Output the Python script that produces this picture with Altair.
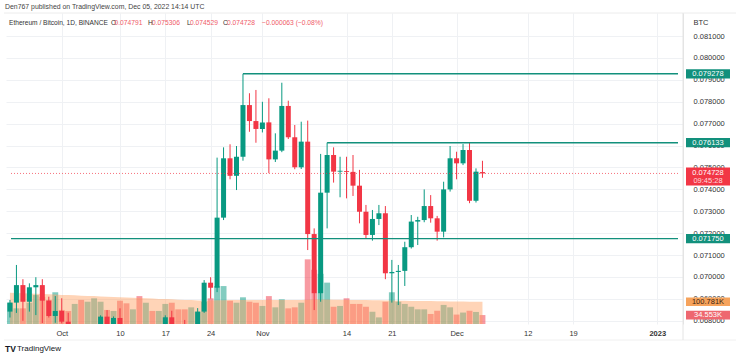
import altair as alt
import pandas as pd

# ---------------- data ----------------
# day index: 0 = Oct 1 2022 ; -8 = Sep 23 ... 65 = Dec 5
days = list(range(-8, 66))

opens = [0.06842, 0.06883, 0.06963, 0.06887, 0.06953, 0.06963, 0.06892, 0.06822, 0.06845, 0.06796,
         0.06740, 0.06760, 0.06730, 0.06752, 0.06770, 0.06819, 0.06770, 0.06813, 0.06765, 0.06730,
         0.06755, 0.06740, 0.06760, 0.06750, 0.06765, 0.06816, 0.06760, 0.06730, 0.06710, 0.06775,
         0.06842, 0.06974, 0.06951, 0.07271, 0.07542, 0.07462, 0.07549, 0.07785, 0.07712, 0.07676,
         0.07706, 0.07537, 0.07577, 0.07781, 0.07638, 0.07501, 0.07618, 0.07196, 0.06926, 0.07385,
         0.07557, 0.07481, 0.07484, 0.07480, 0.07417, 0.07298, 0.07192, 0.07265, 0.07291, 0.07017,
         0.07023, 0.07028, 0.07136, 0.07253, 0.07260, 0.07324, 0.07268, 0.07207, 0.07400, 0.07542,
         0.07519, 0.07580, 0.07348, 0.074791]

highs = [0.06895, 0.07055, 0.06990, 0.06971, 0.06999, 0.06990, 0.06910, 0.06913, 0.06903, 0.06837,
         0.06775, 0.06778, 0.06770, 0.06780, 0.06825, 0.06849, 0.06820, 0.06857, 0.06780, 0.06770,
         0.06775, 0.06780, 0.06782, 0.06778, 0.06825, 0.06846, 0.06778, 0.06804, 0.06780, 0.06858,
         0.06986, 0.06999, 0.07545, 0.07592, 0.07606, 0.07598, 0.079278, 0.07839, 0.07854, 0.07800,
         0.07816, 0.07656, 0.07887, 0.07805, 0.07694, 0.07709, 0.07714, 0.07222, 0.07562, 0.076133,
         0.07592, 0.07549, 0.07549, 0.07557, 0.07489, 0.07329, 0.07306, 0.07329, 0.07324, 0.07078,
         0.07055, 0.07161, 0.07283, 0.07275, 0.07400, 0.07374, 0.07279, 0.07435, 0.07598, 0.07572,
         0.07607, 0.07613, 0.07496, 0.075306]

lows = [0.06815, 0.06836, 0.06800, 0.06842, 0.06826, 0.06790, 0.06815, 0.06791, 0.06788, 0.06720,
        0.06710, 0.06715, 0.06705, 0.06725, 0.06750, 0.06750, 0.06755, 0.06740, 0.06710, 0.06700,
        0.06720, 0.06690, 0.06735, 0.06730, 0.06740, 0.06730, 0.06710, 0.06680, 0.06680, 0.06750,
        0.06836, 0.06901, 0.06931, 0.07260, 0.07446, 0.07397, 0.07531, 0.07663, 0.07613, 0.07660,
        0.07474, 0.07525, 0.07570, 0.07630, 0.07492, 0.07493, 0.07123, 0.06849, 0.06887, 0.07222,
        0.07431, 0.07364, 0.07359, 0.07370, 0.07245, 0.07177, 0.07166, 0.07237, 0.06990, 0.06883,
        0.06872, 0.06959, 0.07130, 0.07146, 0.07250, 0.07248, 0.07166, 0.07181, 0.07390, 0.07446,
        0.07511, 0.07337, 0.07340, 0.074529]

closes = [0.06883, 0.06963, 0.06887, 0.06953, 0.06963, 0.06892, 0.06822, 0.06845, 0.06796, 0.06740,
          0.06760, 0.06730, 0.06752, 0.06770, 0.06819, 0.06770, 0.06813, 0.06765, 0.06730, 0.06755,
          0.06740, 0.06760, 0.06750, 0.06765, 0.06816, 0.06760, 0.06730, 0.06710, 0.06775, 0.06842,
          0.06974, 0.06951, 0.07271, 0.07542, 0.07462, 0.07549, 0.07785, 0.07712, 0.07676, 0.07706,
          0.07537, 0.07577, 0.07781, 0.07638, 0.07501, 0.07618, 0.07196, 0.06926, 0.07385, 0.07557,
          0.07481, 0.07484, 0.07480, 0.07417, 0.07298, 0.07192, 0.07265, 0.07291, 0.07017, 0.07023,
          0.07028, 0.07136, 0.07253, 0.07260, 0.07324, 0.07268, 0.07207, 0.07400, 0.07542, 0.07519,
          0.07580, 0.07348, 0.07481, 0.074728]

volumes = [96, 68, 68, 96, 134, 125, 110, 148, 60, 55,
           90, 110, 101, 118, 101, 60, 55, 106, 93, 63,
           129, 96, 55, 55, 90, 96, 63, 63, 73, 51,
           100, 118, 179, 179, 106, 96, 123, 101, 96, 80,
           129, 73, 113, 68, 73, 96, 312, 260, 240, 196,
           76, 80, 118, 90, 90, 76, 51, 23, 101, 148,
           101, 90, 76, 63, 63, 40, 56, 85, 73, 37,
           47, 56, 50, 34.553]

vol_ma = [146, 145, 143, 142, 141, 139, 138, 137, 135, 134,
          133, 131, 130, 129, 127, 126, 125, 123, 122, 121,
          119, 118, 117, 115, 114, 113, 111, 110, 109, 107,
          106, 107, 108, 108, 109, 109, 109, 110, 110, 110,
          110, 110, 110, 110, 110, 110, 111, 112, 112, 112,
          111, 111, 110, 110, 109, 109, 108, 108, 107, 107,
          106, 106, 105, 105, 104, 104, 103, 103, 102, 102,
          102, 101, 101, 100.781]

x_ticks = [0, 9, 16, 23, 31, 44, 51, 61, 72, 79, 92]
x_tick_labels = ["Oct", "10", "17", "24", "Nov", "14", "21", "Dec", "12", "19", "2023"]
price_ticks = [0.068, 0.069, 0.070, 0.071, 0.072, 0.073, 0.074, 0.075,
               0.076, 0.077, 0.078, 0.079, 0.080, 0.081]

level_values = [0.079278, 0.076133, 0.071750]
level_labels = ["0.079278", "0.076133", "0.071750"]
level_start_days = [28, 41, None]   # None -> from the left edge

last_price = 0.074728
last_price_label = "0.074728"
countdown_label = "09:45:28"

vol_label_values = [100.781, 34.553]
vol_label_texts = ["100.781K", "34.553K"]

# ---------------- styling ----------------
FONT = "Liberation Sans"
GREEN = "#089981"
RED = "#F23645"
LEVEL = "#12907c"
W, H = 677, 311

X_DOM = [-7.84, 95.21]
P_DOM = [0.067854, 0.082054]
V_DOM = [-9.96, 1538.8]

xs = alt.Scale(domain=X_DOM, nice=False, zero=False)
ps = alt.Scale(domain=P_DOM, nice=False, zero=False)
vs = alt.Scale(domain=V_DOM, nice=False, zero=False)

label_expr = " : ".join(f"datum.value == {v} ? '{t}'" for v, t in zip(x_ticks, x_tick_labels)) + " : ''"

x_axis = alt.Axis(values=x_ticks, labelExpr=label_expr, title=None, grid=True,
                  gridColor="#eff1f4", domain=False, ticks=False, labelPadding=5,
                  labelFontSize=7.5, labelColor="#333333", labelFont=FONT,
                  labelFontWeight={"condition": {"test": "datum.value == 92", "value": "bold"},
                                   "value": "normal"},
                  labelFlush=False, labelOverlap=False)

y_axis = alt.Axis(orient="right", values=price_ticks, format=".6f", title="BTC",
                  titleAngle=0, titleAlign="left", titleBaseline="middle", titleX=10, titleY=9,
                  titleFontSize=7.5, titleFontWeight="normal", titleColor="#333333", titleFont=FONT,
                  grid=True, gridColor="#eff1f4", domain=True, domainColor="#e4e4e4",
                  ticks=False, labelAlign="left", labelBaseline="middle", labelPadding=10,
                  labelFontSize=7.5, labelColor="#333333", labelFont=FONT,
                  labelOverlap=False, labelFlush=False)

# ---------------- frames ----------------
df = pd.DataFrame({"day": days, "o": opens, "h": highs, "l": lows, "c": closes,
                   "v": volumes, "ma": vol_ma})
df["dir"] = ["up" if c >= o else "down" for o, c in zip(opens, closes)]
df["bot"] = df[["o", "c"]].min(axis=1)
df["top"] = df[["o", "c"]].max(axis=1)
df["top"] = df[["top"]].assign(m=df["bot"] + 0.00004).max(axis=1)
df["vbase"] = V_DOM[0]

color = alt.Color("dir:N", scale=alt.Scale(domain=["up", "down"], range=[GREEN, RED]), legend=None)
X = alt.X("day:Q", scale=xs, axis=x_axis)

base = alt.Chart(df)

vol_bars = base.mark_bar(size=5.9, opacity=0.5, clip=True, orient="vertical").encode(
    x=X, y=alt.Y("v:Q", scale=vs, axis=None), y2="vbase:Q", color=color)

ma_area = base.mark_area(color="#ffa060", opacity=0.45, clip=True).encode(
    x=X, y=alt.Y("ma:Q", scale=vs, axis=None), y2="vbase:Q")

wicks = base.mark_rule(strokeWidth=1, clip=True).encode(
    x=X, y=alt.Y("l:Q", scale=ps, axis=y_axis), y2="h:Q", color=color)

bodies = base.mark_bar(size=5, clip=True, orient="vertical").encode(
    x=X, y=alt.Y("bot:Q", scale=ps, axis=None), y2="top:Q", color=color)

levels_df = pd.DataFrame({
    "start": [X_DOM[0] if s is None else s for s in level_start_days],
    "end": [X_DOM[1]] * len(level_values),
    "p": level_values,
    "label": level_labels,
})
level_lines = alt.Chart(levels_df).mark_rule(color=LEVEL, strokeWidth=1.4, clip=True).encode(
    x=alt.X("start:Q", scale=xs, axis=x_axis), x2="end:Q",
    y=alt.Y("p:Q", scale=ps, axis=None))

cur_df = pd.DataFrame({"start": [X_DOM[0]], "end": [X_DOM[1]], "p": [last_price],
                       "lo": [0.074178], "hi": [0.075000],
                       "t1": [last_price_label], "t2": [countdown_label]})
cur_line = alt.Chart(cur_df).mark_rule(color=RED, strokeWidth=1, strokeDash=[1, 2], opacity=0.7).encode(
    x=alt.X("start:Q", scale=xs, axis=x_axis), x2="end:Q",
    y=alt.Y("p:Q", scale=ps, axis=None))

level_boxes = alt.Chart(levels_df).transform_calculate(
    lo="datum.p - 0.00021", hi="datum.p + 0.00021"
).mark_rect(color=LEVEL).encode(
    x=alt.value(680), x2=alt.value(724),
    y=alt.Y("lo:Q", scale=ps, axis=None), y2="hi:Q")

level_texts = alt.Chart(levels_df).mark_text(color="white", font=FONT, fontSize=7.5,
                                             align="center", baseline="middle").encode(
    x=alt.value(702), y=alt.Y("p:Q", scale=ps, axis=None), text="label:N")

cur_box = alt.Chart(cur_df).mark_rect(color=RED).encode(
    x=alt.value(680), x2=alt.value(724),
    y=alt.Y("lo:Q", scale=ps, axis=None), y2="hi:Q")
cur_t1 = alt.Chart(cur_df).mark_text(color="white", font=FONT, fontSize=7.5,
                                     align="center", baseline="middle").encode(
    x=alt.value(702), y=alt.Y("p:Q", scale=ps, axis=None), text="t1:N")
cur_t2 = alt.Chart(cur_df).mark_text(color="#ffd9dc", font=FONT, fontSize=7.5,
                                     align="center", baseline="middle", dy=7.5).encode(
    x=alt.value(702), y=alt.Y("p:Q", scale=ps, axis=None), text="t2:N")

vlab_df = pd.DataFrame({"v": vol_label_values, "label": vol_label_texts,
                        "bg": ["#f6a35c", "#ee6770"], "fg": ["#3b2412", "#ffffff"]})
vlab_box = alt.Chart(vlab_df).transform_calculate(
    lo="datum.v - 21.5", hi="datum.v + 21.5"
).mark_rect().encode(
    x=alt.value(680), x2=alt.value(724),
    y=alt.Y("lo:Q", scale=vs, axis=None), y2="hi:Q",
    color=alt.Color("bg:N", scale=None))
vlab_text = alt.Chart(vlab_df).mark_text(font=FONT, fontSize=7.5, align="center",
                                         baseline="middle").encode(
    x=alt.value(702), y=alt.Y("v:Q", scale=vs, axis=None), text="label:N",
    color=alt.Color("fg:N", scale=None))

# ---------------- header / footer annotations ----------------
one = pd.DataFrame({"a": [0]})


def txt(s, x, y, color="#333333", size=6.7, weight="normal"):
    return alt.Chart(one).mark_text(text=s, font=FONT, fontSize=size, color=color,
                                    fontWeight=weight, align="left", baseline="middle").encode(
        x=alt.value(x), y=alt.value(y))


legend_red = "#ef5a67"
header = [
    txt("Den767 published on TradingView.com, Dec 05, 2022 14:14 UTC", -1, -6, "#444444", 6.9),
    txt("Ethereum / Bitcoin, 1D, BINANCE", 3, 10, "#333333", 6.6),
    txt("O", 105, 10), txt("0.074791", 108.5, 10, legend_red),
    txt("H", 142, 10), txt("0.075306", 146, 10, legend_red),
    txt("L", 181, 10), txt("0.074529", 184, 10, legend_red),
    txt("C", 217, 10), txt("0.074728", 221, 10, legend_red),
    txt("\u22120.000063 (\u22120.08%)", 256, 10, legend_red),
    txt("TV", -1, 336, "#131722", 8.5, "bold"),
    txt("TradingView", 11, 336, "#131722", 8),
]

sep_top = alt.Chart(one).mark_rule(color="#ececec", strokeWidth=1).encode(
    x=alt.value(-2), x2=alt.value(730), y=alt.value(0))
sep_bottom = alt.Chart(one).mark_rule(color="#f0f0f0", strokeWidth=1).encode(
    x=alt.value(-2), x2=alt.value(730), y=alt.value(327))
sep_right = alt.Chart(one).mark_rule(color="#e4e4e4", strokeWidth=1).encode(
    x=alt.value(677), y=alt.value(0), y2=alt.value(327))

chart = alt.layer(
    vol_bars, ma_area, wicks, bodies, level_lines, cur_line,
    level_boxes, level_texts, cur_box, cur_t1, cur_t2, vlab_box, vlab_text,
    sep_top, sep_bottom, sep_right, *header
).resolve_scale(
    y="independent", color="independent"
).properties(
    width=W, height=H,
    padding={"left": 6, "top": 13, "right": 53, "bottom": 34},
    autosize=alt.AutoSizeParams(type="none"),
    background="white",
).configure_view(stroke=None)

chart.save("out.html", embed_options={"renderer": "svg", "actions": False})
